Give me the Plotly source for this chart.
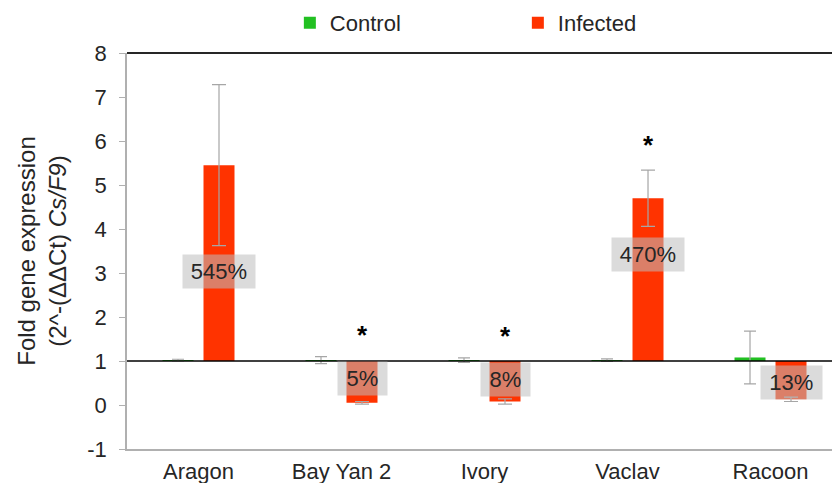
import plotly.graph_objects as go

# ---- data ----
categories = ["Aragon", "Bay Yan 2", "Ivory", "Vaclav", "Racoon"]
control_values = [1.02, 1.02, 1.02, 1.02, 1.08]
control_errors = [0.02, 0.08, 0.05, 0.03, 0.60]
infected_values = [5.45, 0.05, 0.08, 4.70, 0.13]
infected_errors = [1.83, 0.03, 0.06, 0.64, 0.05]
significant = [False, True, True, True, False]
baseline = 1.0
y_tick_values = [-1, 0, 1, 2, 3, 4, 5, 6, 7, 8]
y_tick_labels = ["-1", "0", "1", "2", "3", "4", "5", "6", "7", "8"]

# ---- placement of labels (not data) ----
label_y = [3.03, 0.60, 0.59, 3.43, 0.51]
star_y = [None, 1.58, 1.56, 5.90, None]

FONT = "Liberation Sans, Arial, sans-serif"
GREEN = "#22c022"
RED = "#ff3300"
ERR = "#a6a6a6"
TXT = "#262626"

fig = go.Figure()
fig.add_trace(go.Bar(
    name="Control", x=categories,
    y=[v - baseline for v in control_values], base=baseline,
    marker=dict(color=GREEN, line=dict(width=0)),
    error_y=dict(type="data", array=control_errors, color=ERR, thickness=1.2, width=6),
))
fig.add_trace(go.Bar(
    name="Infected", x=categories,
    y=[v - baseline for v in infected_values], base=baseline,
    marker=dict(color=RED, line=dict(width=0)),
    error_y=dict(type="data", array=infected_errors, color=ERR, thickness=1.2, width=7),
))

annotations = []
for cat, v, ly in zip(categories, infected_values, label_y):
    txt = f"{round(v * 100)}%"
    annotations.append(dict(
        x=cat, y=ly, xref="x", yref="y", xshift=20.5, text=txt, showarrow=False,
        font=dict(family=FONT, size=22, color=TXT),
        bgcolor="rgba(190,190,190,0.55)", borderpad=0,
        width=11.5 * len(txt) + 26, height=33, xanchor="center", yanchor="middle",
    ))
for cat, sig, sy in zip(categories, significant, star_y):
    if sig:
        annotations.append(dict(
            x=cat, y=sy, xref="x", yref="y", xshift=20.5, text="<b>*</b>", showarrow=False,
            font=dict(family=FONT, size=26, color="#000000"), xanchor="center", yanchor="middle",
        ))

fig.update_layout(
    width=832, height=483,
    margin=dict(l=127, r=0, t=53, b=34, autoexpand=False),
    paper_bgcolor="white", plot_bgcolor="white",
    barmode="group", bargap=0.4266, bargroupgap=0.244,
    font=dict(family=FONT, size=22, color=TXT),
    showlegend=True,
    legend=dict(orientation="h", x=0.231, xanchor="left", y=1.0758, yanchor="middle",
                entrywidth=183, font=dict(size=22, color=TXT),
                bgcolor="rgba(0,0,0,0)"),
    annotations=annotations,
    shapes=[
        dict(type="line", xref="paper", yref="y", x0=0, x1=1, y0=baseline, y1=baseline,
             line=dict(color="#000000", width=1.5)),
        dict(type="line", xref="paper", yref="paper", x0=0, x1=1, y0=1, y1=1,
             line=dict(color=TXT, width=2)),
    ],
)
fig.update_xaxes(
    type="category", range=[-0.5, 4.43], showgrid=False, zeroline=False,
    showline=True, linecolor="#b0b0b0", linewidth=1.5, ticks="", automargin=False,
    tickfont=dict(family=FONT, size=22, color=TXT), ticklabelstandoff=2,
)
fig.update_yaxes(
    range=[-1, 8], tickvals=y_tick_values, ticktext=y_tick_labels,
    showgrid=False, zeroline=False, automargin=False,
    showline=True, linecolor="#b0b0b0", linewidth=1.5,
    ticks="outside", ticklen=6, tickcolor="#b0b0b0",
    tickfont=dict(family=FONT, size=22, color=TXT), ticklabelstandoff=8,
    title=dict(text="Fold gene expression<br>(2^-(ΔΔCt) <i>Cs/F9</i>)",
               font=dict(family=FONT, size=24, color=TXT), standoff=14),
)

fig.write_html("out.html", config={"displayModeBar": False},
               post_script="document.body.style.margin='0';document.body.style.overflow='hidden';")
